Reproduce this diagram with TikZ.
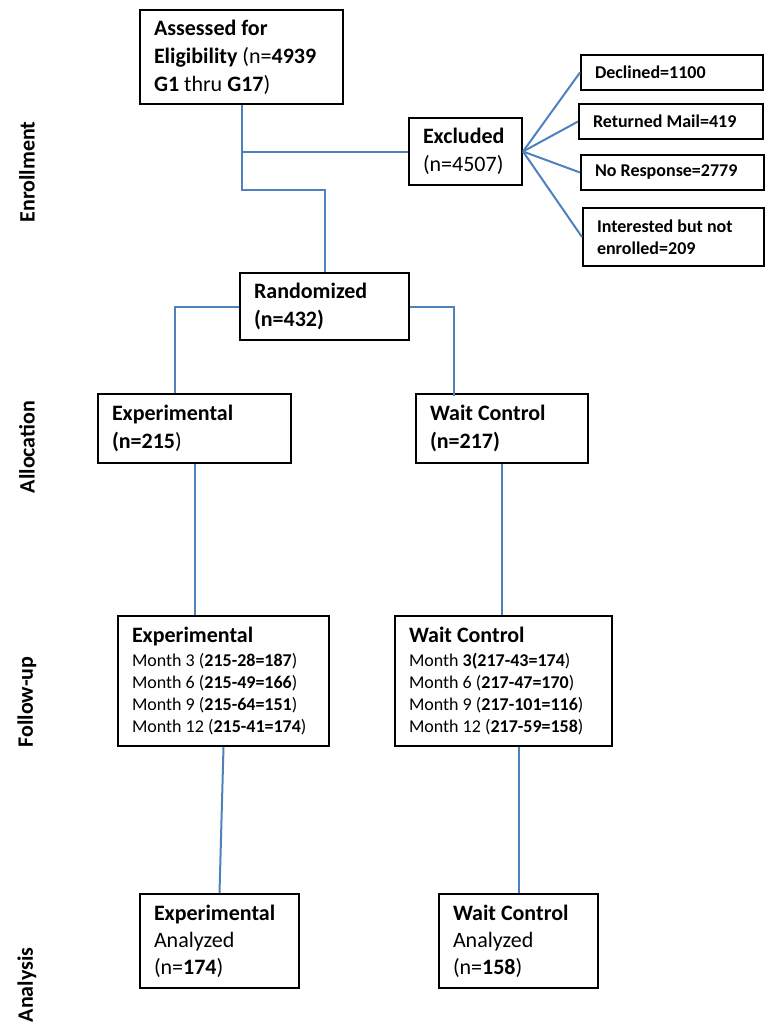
\documentclass[tikz,border=0pt]{standalone}
\usepackage{fontspec}
\setmainfont{Carlito}
\usetikzlibrary{positioning, calc}
\definecolor{lineblue}{RGB}{79,129,189}

\begin{document}
\begin{tikzpicture}[x=1pt, y=-1pt,
    box/.style={draw=black, line width=2pt, anchor=north west, align=flush left,
                inner xsep=14pt, inner ysep=0pt},
    big/.style={font=\fontsize{22}{28}\selectfont},
    small/.style={font=\fontsize{18}{22}\selectfont},
    link/.style={draw=lineblue, line width=2pt},
    phase/.style={rotate=90, font=\fontsize{22}{26}\selectfont\bfseries}]
  \useasboundingbox (0,0) rectangle (773,1025);

  % phase labels
  \node (lenr) [phase] at (27,172) {Enrollment};
  \node (lall) [phase] at (27,447) {Allocation};
  \node (lfol) [phase] at (27,702) {Follow-up};
  \node (lana) [phase] at (27,985) {Analysis};

  % enrollment
  \node (assess) [box, big, text width=175pt, minimum height=94pt] at (139,9)
    {\textbf{Assessed for}\\ \textbf{Eligibility} (n=\textbf{4939}\\ \textbf{G1} thru \textbf{G17})};
  \node (excl) [box, big, text width=85pt, minimum height=67pt] at (408,117)
    {\textbf{Excluded}\\ (n=4507)};
  \node (decl) [box, small, text width=154pt, minimum height=35pt] at (580,54)
    {\textbf{Declined=1100}};
  \node (mail) [box, small, text width=156pt, minimum height=35pt] at (578,103)
    {\textbf{Returned Mail=419}};
  \node (noresp) [box, small, text width=155pt, minimum height=35pt] at (580,154)
    {\textbf{No Response=2779}};
  \node (inter) [box, small, text width=153pt, minimum height=58pt] at (582,207)
    {\textbf{Interested but not}\\ \textbf{enrolled=209}};
  \node (random) [box, big, text width=141pt, minimum height=67pt] at (239,272)
    {\textbf{Randomized}\\ \textbf{(n=432)}};

  % allocation
  \node (alexp) [box, big, text width=165pt, minimum height=69pt] at (97,393)
    {\textbf{Experimental}\\ \textbf{(n=215})};
  \node (alwait) [box, big, text width=144pt, minimum height=69pt] at (415,393)
    {\textbf{Wait Control}\\ \textbf{(n=217)}};

  % follow-up
  \node (fuexp) [box, small, text width=183pt, minimum height=130pt] at (117,615)
    {{\fontsize{22}{28}\selectfont\textbf{Experimental}}\\[2pt]
     Month 3 (\textbf{215-28=187})\\ Month 6 (\textbf{215-49=166})\\
     Month 9 (\textbf{215-64=151})\\ Month 12 (\textbf{215-41=174})};
  \node (fuwait) [box, small, text width=189pt, minimum height=130pt] at (394,615)
    {{\fontsize{22}{28}\selectfont\textbf{Wait Control}}\\[2pt]
     Month \textbf{3(217-43=174})\\ Month 6 (\textbf{217-47=170})\\
     Month 9 (\textbf{217-101=116})\\ Month 12 (\textbf{217-59=158})};

  % analysis
  \node (anexp) [box, font=\fontsize{22}{27}\selectfont, text width=131pt, minimum height=94pt] at (139,893)
    {\textbf{Experimental}\\ Analyzed\\ (n=\textbf{174})};
  \node (anwait) [box, font=\fontsize{22}{27}\selectfont, text width=131pt, minimum height=94pt] at (438,893)
    {\textbf{Wait Control}\\ Analyzed\\ (n=\textbf{158})};

  \coordinate (bend) at ($(assess.south)+(0,85)$);

  \draw [link] (assess.south) -- (bend) -| (random.north);
  \draw [link] (excl.west) -- (excl.west -| assess.south);
  \path [-] [link]
  (excl.east) edge node {} (decl.west)
  (excl.east) edge node {} (mail.west)
  (excl.east) edge node {} (noresp.west)
  (excl.east) edge node {} (inter.west);
  \draw [link] (random.west) -| ([xshift=-19.5pt]alexp.north);
  \draw [link] (random.east) -| ([xshift=-48pt,yshift=-3pt]alwait.north);
  \draw [link] (alexp.south) -- (alexp.south |- fuexp.north);
  \draw [link] (alwait.south) -- (alwait.south |- fuwait.north);
  \draw [link] (fuexp.south) -- (anexp.north);
  \draw [link] (anwait.north) -- (anwait.north |- fuwait.south);
\end{tikzpicture}
\end{document}
